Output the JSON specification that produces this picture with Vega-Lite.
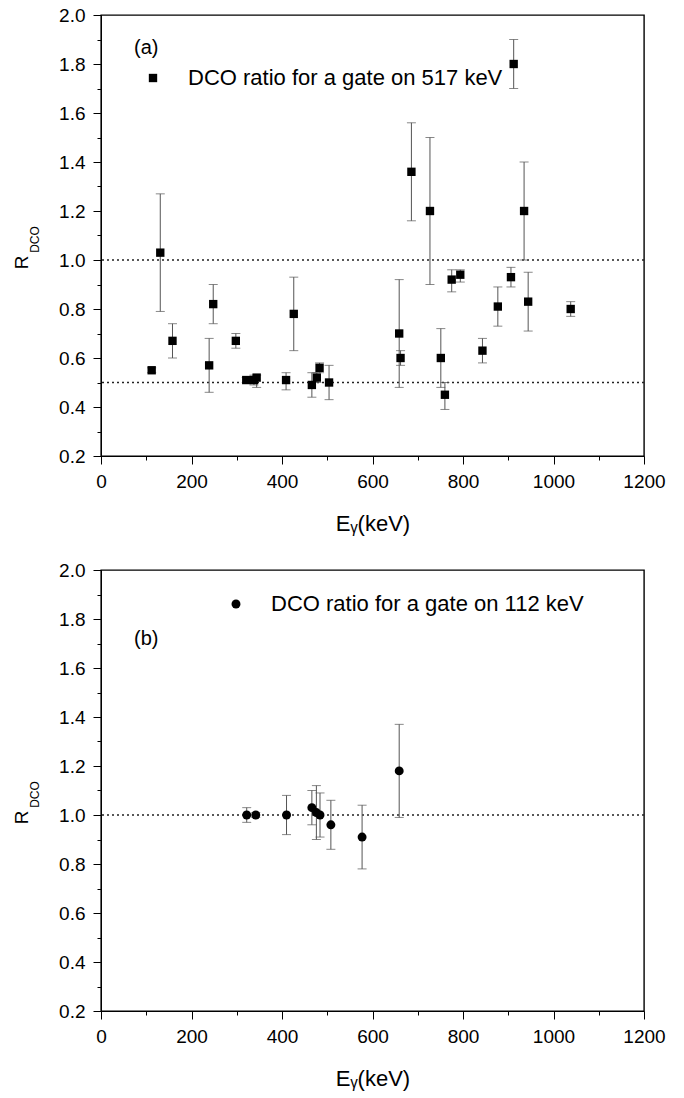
{
  "$schema": "https://vega.github.io/schema/vega-lite/v6.json",
  "autosize": {"type": "none"},
  "padding": {"left": 101, "top": 15, "right": 583, "bottom": 1083},
  "background": "white",
  "config": {
    "font": "Liberation Sans",
    "view": {"stroke": "#000", "strokeWidth": 1.4},
    "axis": {"grid": false, "domainColor": "#000", "tickColor": "#000", "labelColor": "#000", "titleColor": "#000", "labelFont": "Liberation Sans", "titleFont": "Liberation Sans"},
    "concat": {"spacing": 114},
    "legend": {"labelFont": "Liberation Sans"}
  },
  "bounds": "flush",
  "resolve": {"scale": {"shape": "independent"}, "legend": {"shape": "independent"}},
  "datasets": {
    "a": [
      {"energy": 112, "r": 0.55, "lo": 0.54, "hi": 0.56, "series": "DCO ratio for a gate on 517 keV"},
      {"energy": 131, "r": 1.03, "lo": 0.79, "hi": 1.27, "series": "DCO ratio for a gate on 517 keV"},
      {"energy": 158, "r": 0.67, "lo": 0.60, "hi": 0.74, "series": "DCO ratio for a gate on 517 keV"},
      {"energy": 239, "r": 0.57, "lo": 0.46, "hi": 0.68, "series": "DCO ratio for a gate on 517 keV"},
      {"energy": 248, "r": 0.82, "lo": 0.74, "hi": 0.90, "series": "DCO ratio for a gate on 517 keV"},
      {"energy": 298, "r": 0.67, "lo": 0.64, "hi": 0.70, "series": "DCO ratio for a gate on 517 keV"},
      {"energy": 321, "r": 0.51, "lo": 0.50, "hi": 0.52, "series": "DCO ratio for a gate on 517 keV"},
      {"energy": 338, "r": 0.51, "lo": 0.49, "hi": 0.53, "series": "DCO ratio for a gate on 517 keV"},
      {"energy": 344, "r": 0.52, "lo": 0.48, "hi": 0.53, "series": "DCO ratio for a gate on 517 keV"},
      {"energy": 409, "r": 0.51, "lo": 0.47, "hi": 0.54, "series": "DCO ratio for a gate on 517 keV"},
      {"energy": 426, "r": 0.78, "lo": 0.63, "hi": 0.93, "series": "DCO ratio for a gate on 517 keV"},
      {"energy": 466, "r": 0.49, "lo": 0.44, "hi": 0.54, "series": "DCO ratio for a gate on 517 keV"},
      {"energy": 477, "r": 0.52, "lo": 0.50, "hi": 0.54, "series": "DCO ratio for a gate on 517 keV"},
      {"energy": 483, "r": 0.56, "lo": 0.54, "hi": 0.58, "series": "DCO ratio for a gate on 517 keV"},
      {"energy": 504, "r": 0.50, "lo": 0.43, "hi": 0.57, "series": "DCO ratio for a gate on 517 keV"},
      {"energy": 659, "r": 0.70, "lo": 0.48, "hi": 0.92, "series": "DCO ratio for a gate on 517 keV"},
      {"energy": 662, "r": 0.60, "lo": 0.57, "hi": 0.63, "series": "DCO ratio for a gate on 517 keV"},
      {"energy": 686, "r": 1.36, "lo": 1.16, "hi": 1.56, "series": "DCO ratio for a gate on 517 keV"},
      {"energy": 727, "r": 1.20, "lo": 0.90, "hi": 1.50, "series": "DCO ratio for a gate on 517 keV"},
      {"energy": 751, "r": 0.60, "lo": 0.48, "hi": 0.72, "series": "DCO ratio for a gate on 517 keV"},
      {"energy": 760, "r": 0.45, "lo": 0.39, "hi": 0.50, "series": "DCO ratio for a gate on 517 keV"},
      {"energy": 775, "r": 0.92, "lo": 0.87, "hi": 0.96, "series": "DCO ratio for a gate on 517 keV"},
      {"energy": 794, "r": 0.94, "lo": 0.91, "hi": 0.96, "series": "DCO ratio for a gate on 517 keV"},
      {"energy": 843, "r": 0.63, "lo": 0.58, "hi": 0.68, "series": "DCO ratio for a gate on 517 keV"},
      {"energy": 877, "r": 0.81, "lo": 0.73, "hi": 0.89, "series": "DCO ratio for a gate on 517 keV"},
      {"energy": 906, "r": 0.93, "lo": 0.89, "hi": 0.97, "series": "DCO ratio for a gate on 517 keV"},
      {"energy": 912, "r": 1.80, "lo": 1.70, "hi": 1.90, "series": "DCO ratio for a gate on 517 keV"},
      {"energy": 935, "r": 1.20, "lo": 1.00, "hi": 1.40, "series": "DCO ratio for a gate on 517 keV"},
      {"energy": 944, "r": 0.83, "lo": 0.71, "hi": 0.95, "series": "DCO ratio for a gate on 517 keV"},
      {"energy": 1038, "r": 0.80, "lo": 0.77, "hi": 0.83, "series": "DCO ratio for a gate on 517 keV"}
    ],
    "b": [
      {"energy": 322, "r": 1.00, "lo": 0.97, "hi": 1.03, "series": "DCO ratio for a gate on 112 keV"},
      {"energy": 342, "r": 1.00, "lo": 0.99, "hi": 1.01, "series": "DCO ratio for a gate on 112 keV"},
      {"energy": 410, "r": 1.00, "lo": 0.92, "hi": 1.08, "series": "DCO ratio for a gate on 112 keV"},
      {"energy": 466, "r": 1.03, "lo": 0.96, "hi": 1.10, "series": "DCO ratio for a gate on 112 keV"},
      {"energy": 476, "r": 1.01, "lo": 0.90, "hi": 1.12, "series": "DCO ratio for a gate on 112 keV"},
      {"energy": 484, "r": 1.00, "lo": 0.91, "hi": 1.09, "series": "DCO ratio for a gate on 112 keV"},
      {"energy": 508, "r": 0.96, "lo": 0.86, "hi": 1.06, "series": "DCO ratio for a gate on 112 keV"},
      {"energy": 577, "r": 0.91, "lo": 0.78, "hi": 1.04, "series": "DCO ratio for a gate on 112 keV"},
      {"energy": 659, "r": 1.18, "lo": 0.99, "hi": 1.37, "series": "DCO ratio for a gate on 112 keV"}
    ],
    "refa": [{"level": 0.5}, {"level": 1.0}],
    "refb": [{"level": 1.0}],
    "taga": [{"tag": "(a)"}],
    "tagb": [{"tag": "(b)"}]
  },
  "vconcat": [
    {
      "width": 543,
      "height": 441,
      "resolve": {"axis": {"x": "independent", "y": "independent"}},
      "layer": [
        {
          "data": {"name": "refa"},
          "mark": {"type": "rule", "color": "#222", "strokeDash": [2, 3], "strokeWidth": 1.3},
          "encoding": {"y": {"field": "level", "type": "quantitative", "scale": {"domain": [0.2, 2.0], "nice": false}, "axis": null}}
        },
        {
          "data": {"name": "a"},
          "mark": {"type": "errorbar", "ticks": {"size": 9, "color": "#555"}, "rule": {"color": "#555"}},
          "encoding": {
            "x": {"field": "energy", "type": "quantitative", "scale": {"domain": [0, 1200], "nice": false},
              "axis": {"orient": "bottom", "values": [100, 300, 500, 700, 900, 1100], "labels": false, "domain": false, "tickSize": 4, "title": null}},
            "y": {"field": "lo", "type": "quantitative", "scale": {"domain": [0.2, 2.0], "nice": false},
              "axis": {"orient": "left", "values": [0.3, 0.5, 0.7, 0.9, 1.1, 1.3, 1.5, 1.7, 1.9], "labels": false, "domain": false, "tickSize": 4,
                "title": "DCO", "titleFontSize": 12, "titleFontWeight": "normal", "titleX": -67, "titleY": 224, "titleAlign": "center", "titleBaseline": "middle", "titleAngle": 270}},
            "y2": {"field": "hi"}
          }
        },
        {
          "data": {"name": "a"},
          "mark": {"type": "point", "filled": true, "color": "#000", "size": 70, "opacity": 1},
          "encoding": {
            "x": {"field": "energy", "type": "quantitative",
              "axis": {"orient": "bottom", "values": [0, 200, 400, 600, 800, 1000, 1200], "format": "d", "tickSize": 8, "labelFontSize": 19, "labelPadding": 8, "labelFlush": false,
                "title": "Eᵧ(keV)", "titleFontSize": 22, "titleFontWeight": "normal", "titlePadding": 22}},
            "y": {"field": "r", "type": "quantitative",
              "axis": {"orient": "left", "values": [0.2, 0.4, 0.6, 0.8, 1.0, 1.2, 1.4, 1.6, 1.8, 2.0], "format": ".1f", "tickSize": 8, "labelFontSize": 19, "labelPadding": 8, "labelFlush": false,
                "title": "R", "titleFontSize": 19, "titleFontWeight": "normal", "titleX": -80, "titleY": 247, "titleAlign": "center", "titleBaseline": "middle", "titleAngle": 270}},
            "shape": {"field": "series", "type": "nominal", "scale": {"range": ["square"]},
              "legend": {"orient": "none", "legendX": 41, "legendY": 52, "title": null, "labelFontSize": 22, "labelLimit": 600, "labelOffset": 24, "symbolSize": 70, "symbolFillColor": "#000", "symbolStrokeColor": "#000", "padding": 0}}
          }
        },
        {
          "data": {"name": "taga"},
          "mark": {"type": "text", "fontSize": 20, "align": "center", "baseline": "middle", "font": "Liberation Sans", "color": "#000"},
          "encoding": {
            "x": {"datum": 100, "type": "quantitative", "axis": null},
            "y": {"datum": 1.865, "type": "quantitative", "axis": null},
            "text": {"field": "tag"}
          }
        }
      ]
    },
    {
      "width": 543,
      "height": 441,
      "resolve": {"axis": {"x": "independent", "y": "independent"}},
      "layer": [
        {
          "data": {"name": "refb"},
          "mark": {"type": "rule", "color": "#222", "strokeDash": [2, 3], "strokeWidth": 1.3},
          "encoding": {"y": {"field": "level", "type": "quantitative", "scale": {"domain": [0.2, 2.0], "nice": false}, "axis": null}}
        },
        {
          "data": {"name": "b"},
          "mark": {"type": "errorbar", "ticks": {"size": 9, "color": "#555"}, "rule": {"color": "#555"}},
          "encoding": {
            "x": {"field": "energy", "type": "quantitative", "scale": {"domain": [0, 1200], "nice": false},
              "axis": {"orient": "bottom", "values": [100, 300, 500, 700, 900, 1100], "labels": false, "domain": false, "tickSize": 4, "title": null}},
            "y": {"field": "lo", "type": "quantitative", "scale": {"domain": [0.2, 2.0], "nice": false},
              "axis": {"orient": "left", "values": [0.3, 0.5, 0.7, 0.9, 1.1, 1.3, 1.5, 1.7, 1.9], "labels": false, "domain": false, "tickSize": 4,
                "title": "DCO", "titleFontSize": 12, "titleFontWeight": "normal", "titleX": -67, "titleY": 224, "titleAlign": "center", "titleBaseline": "middle", "titleAngle": 270}},
            "y2": {"field": "hi"}
          }
        },
        {
          "data": {"name": "b"},
          "mark": {"type": "point", "filled": true, "color": "#000", "size": 80, "opacity": 1},
          "encoding": {
            "x": {"field": "energy", "type": "quantitative",
              "axis": {"orient": "bottom", "values": [0, 200, 400, 600, 800, 1000, 1200], "format": "d", "tickSize": 8, "labelFontSize": 19, "labelPadding": 8, "labelFlush": false,
                "title": "Eᵧ(keV)", "titleFontSize": 22, "titleFontWeight": "normal", "titlePadding": 22}},
            "y": {"field": "r", "type": "quantitative",
              "axis": {"orient": "left", "values": [0.2, 0.4, 0.6, 0.8, 1.0, 1.2, 1.4, 1.6, 1.8, 2.0], "format": ".1f", "tickSize": 8, "labelFontSize": 19, "labelPadding": 8, "labelFlush": false,
                "title": "R", "titleFontSize": 19, "titleFontWeight": "normal", "titleX": -80, "titleY": 247, "titleAlign": "center", "titleBaseline": "middle", "titleAngle": 270}},
            "shape": {"field": "series", "type": "nominal", "scale": {"range": ["circle"]},
              "legend": {"orient": "none", "legendX": 124, "legendY": 23, "title": null, "labelFontSize": 22, "labelLimit": 600, "labelOffset": 24, "symbolSize": 80, "symbolFillColor": "#000", "symbolStrokeColor": "#000", "padding": 0}}
          }
        },
        {
          "data": {"name": "tagb"},
          "mark": {"type": "text", "fontSize": 20, "align": "center", "baseline": "middle", "font": "Liberation Sans", "color": "#000"},
          "encoding": {
            "x": {"datum": 100, "type": "quantitative", "axis": null},
            "y": {"datum": 1.72, "type": "quantitative", "axis": null},
            "text": {"field": "tag"}
          }
        }
      ]
    }
  ]
}
